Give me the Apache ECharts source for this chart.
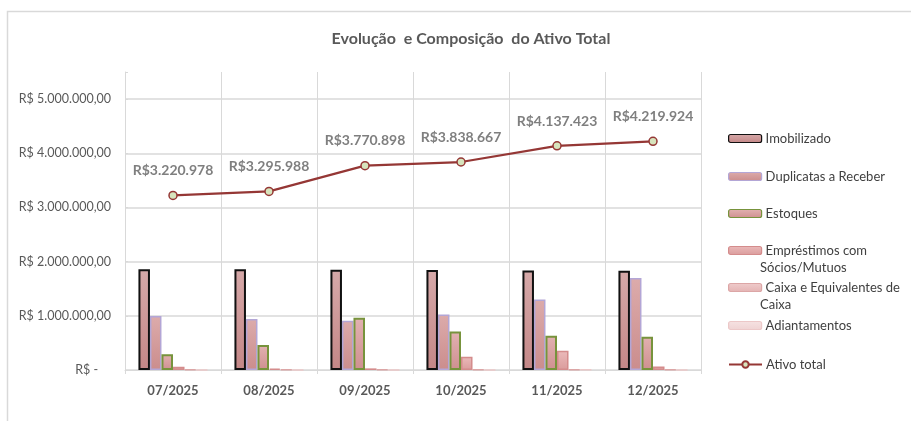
<!DOCTYPE html>
<html lang="pt-BR">
<head>
    <meta charset="utf-8">
    <title>Evolução e Composição do Ativo Total</title>
    <script src="https://cdn.jsdelivr.net/npm/echarts@6/dist/echarts.min.js"></script>
    <style>
        html, body { margin: 0; padding: 0; background: #fff; }
        #main { width: 911px; height: 421px; }
    </style>
</head>
<body>
    <div id="main"></div>
    <script type="text/javascript">
        // dados
        var meses = ['07/2025', '08/2025', '09/2025', '10/2025', '11/2025', '12/2025'];
        var imobilizado   = [1860000, 1860000, 1850000, 1845000, 1835000, 1830000];
        var duplicatas    = [995000, 940000, 910000, 1025000, 1300000, 1700000];
        var estoques      = [290000, 460000, 965000, 710000, 630000, 615000];
        var emprestimos   = [60000, 25000, 30000, 245000, 355000, 65000];
        var caixa         = [12000, 8000, 12000, 10000, 12000, 7000];
        var adiantamentos = [4000, 3000, 4000, 4000, 5000, 3000];
        var ativoTotal    = [3220978, 3295988, 3770898, 3838667, 4137423, 4219924];
        var yTicks = [0, 1000000, 2000000, 3000000, 4000000, 5000000];

        var fonte = 'Lato, "Open Sans", sans-serif';

        function fmtEixo(v) {
            if (v === 0) return 'R$ -    ';
            if (yTicks.indexOf(v) < 0) return '';
            var s = String(Math.round(v)).replace(/\B(?=(\d{3})+(?!\d))/g, '.');
            return 'R$ ' + s + ',00';
        }
        function fmtTotal(v) {
            return 'R$' + String(v).replace(/\B(?=(\d{3})+(?!\d))/g, '.');
        }
        function grad(c1, c2) {
            return new echarts.graphic.LinearGradient(0, 0, 0, 1, [
                { offset: 0, color: c1 }, { offset: 1, color: c2 }
            ]);
        }

        var barras = [
            { name: 'Imobilizado', data: imobilizado, fill: grad('#d6a9a9', '#c48787'), border: '#111111', bw: 2 },
            { name: 'Duplicatas a Receber', data: duplicatas, fill: grad('#dcabab', '#cb8d8d'), border: '#b3a6d6', bw: 1.5 },
            { name: 'Estoques', data: estoques, fill: grad('#e2b1b1', '#cf9090'), border: '#77933c', bw: 2 },
            { name: 'Empréstimos com Sócios/Mutuos', data: emprestimos, fill: grad('#ebbaba', '#da9c9c'), border: '#d48c8c', bw: 1.5 },
            { name: 'Caixa e Equivalentes de Caixa', data: caixa, fill: grad('#efcccc', '#e4b3b3'), border: '#dca6a6', bw: 1.5 },
            { name: 'Adiantamentos', data: adiantamentos, fill: grad('#f6e2e2', '#efd3d3'), border: '#ecc8c8', bw: 1.5 }
        ];

        var series = barras.map(function (b) {
            return {
                name: b.name,
                type: 'bar',
                data: b.data,
                barGap: 0,
                barCategoryGap: '28%',
                itemStyle: { color: b.fill, borderColor: b.border, borderWidth: b.bw },
                emphasis: { disabled: true }
            };
        });
        series.push({
            name: 'Ativo total',
            type: 'line',
            data: ativoTotal,
            symbol: 'circle',
            symbolSize: 8,
            lineStyle: { color: '#953735', width: 2.25 },
            itemStyle: { color: '#d7e4bd', borderColor: '#953735', borderWidth: 1.5 },
            label: {
                show: true,
                position: 'top',
                distance: 13,
                formatter: function (p) { return fmtTotal(p.value); },
                color: '#7f7f7f',
                fontFamily: fonte,
                fontWeight: 'bold',
                fontSize: 14
            },
            z: 5
        });

        // legenda: uma por item para acertar as posições
        var legTops = [127, 165, 202, 239, 276, 314, 353];
        var legNomes = ['Imobilizado', 'Duplicatas a Receber', 'Estoques', 'Empréstimos com Sócios/Mutuos',
                        'Caixa e Equivalentes de Caixa', 'Adiantamentos', 'Ativo total'];
        var legPrimeira = {
            'Empréstimos com Sócios/Mutuos': 'Empréstimos com',
            'Caixa e Equivalentes de Caixa': 'Caixa e Equivalentes de'
        };
        var legend = legNomes.map(function (n, i) {
            return {
                data: [n],
                left: 723,
                top: legTops[i],
                orient: 'vertical',
                itemWidth: 33,
                itemHeight: 8,
                itemGap: 4,
                selectedMode: false,
                itemStyle: n === 'Ativo total' ? {} : { borderWidth: 1.2 },
                formatter: function (name) { return legPrimeira[name] || name; },
                textStyle: { color: '#404040', fontFamily: fonte, fontSize: 13, padding: [0, 0, 0, -1] }
            };
        });

        var myChart = echarts.init(document.getElementById('main'));
        myChart.setOption({
            animation: false,
            backgroundColor: '#ffffff',
            title: {
                text: 'Evolução  e Composição  do Ativo Total',
                left: 466,
                textAlign: 'center',
                top: 26,
                textStyle: { color: '#595959', fontFamily: fonte, fontSize: 16, fontWeight: 'bold' }
            },
            legend: legend,
            graphic: [
                {
                    type: 'rect', silent: true,
                    shape: { x: 7.5, y: 11.5, width: 920, height: 420 },
                    style: { fill: null, stroke: '#d9d9d9', lineWidth: 1.5 }
                },
                {
                    type: 'text', left: 760, top: 261,
                    style: { text: 'Sócios/Mutuos', fill: '#404040', font: '13px ' + fonte }
                },
                {
                    type: 'text', left: 760, top: 298,
                    style: { text: 'Caixa', fill: '#404040', font: '13px ' + fonte }
                }
            ],
            grid: { left: 125, right: 210, top: 72, bottom: 51, containLabel: false },
            xAxis: {
                type: 'category',
                data: meses,
                axisLine: { lineStyle: { color: '#d9d9d9', width: 1 } },
                axisTick: { show: true, length: 4, lineStyle: { color: '#d9d9d9' } },
                splitLine: { show: true, lineStyle: { color: '#d9d9d9', width: 1 } },
                axisLabel: { color: '#595959', fontFamily: fonte, fontSize: 13, fontWeight: 'bold', margin: 14 }
            },
            yAxis: {
                type: 'value',
                min: 0,
                max: 5500000,
                interval: 1000000,
                axisLine: { show: true, lineStyle: { color: '#d9d9d9' } },
                axisTick: { show: true, length: 3, inside: true, lineStyle: { color: '#d9d9d9' } },
                splitLine: {
                    show: true,
                    lineStyle: { color: ['#d9d9d9', '#d9d9d9', '#d9d9d9', '#d9d9d9', '#d9d9d9', '#d9d9d9', 'rgba(0,0,0,0)'], width: 1.5 }
                },
                axisLabel: { color: '#595959', fontFamily: fonte, fontSize: 12.5, margin: 14, formatter: fmtEixo }
            },
            series: series
        });
    </script>
</body>
</html>
